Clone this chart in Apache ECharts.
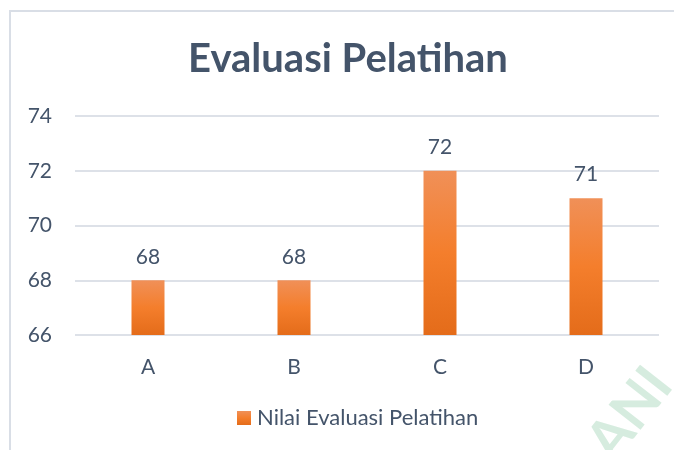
<!DOCTYPE html>
<html><head><meta charset="utf-8">
<style>html,body{margin:0;padding:0;background:#fff}#c{width:674px;height:450px}</style>
<script src="https://cdn.jsdelivr.net/npm/echarts@6/dist/echarts.min.js"></script>
</head><body><div id="c"></div>
<script>
const categories = ['A', 'B', 'C', 'D'];
const values = [68, 68, 72, 71];
const seriesName = 'Nilai Evaluasi Pelatihan';
const yMin = 66, yMax = 74, yStep = 2;

const chart = echarts.init(document.getElementById('c'), null, {renderer: 'canvas'});
const txt = '#44546A';
const font = 'Lato';
const grad = new echarts.graphic.LinearGradient(0, 0, 0, 1, [
  {offset: 0, color: '#F09058'},
  {offset: 0.5, color: '#F47E2C'},
  {offset: 1, color: '#E46C1A'}
]);
chart.setOption({
  animation: false,
  title: {
    text: 'Evaluasi Pelatihan', left: 343, top: 34, textAlign: 'center',
    textStyle: {fontFamily: font, fontWeight: 'bold', fontSize: 40, color: '#44546A'}
  },
  graphic: [
    {type: 'polyline', shape: {points: [[10, 450], [10, 11], [674, 11]]},
     style: {stroke: '#D9DEE6', lineWidth: 2, fill: null}, silent: true},
    {type: 'text', x: 630, y: 414, rotation: Math.PI * 52 / 180,
     style: {text: 'ANI', fontFamily: font, fontWeight: 'bold', fontSize: 56, fill: '#D6ECDF', textAlign: 'center', textVerticalAlign: 'middle'}, silent: true, z: -1}
  ],
  grid: {left: 75, right: 15, top: 116, bottom: 115, containLabel: false},
  legend: {
    bottom: 16, left: 232, itemWidth: 14, itemHeight: 14, icon: 'rect', itemGap: 6,
    textStyle: {fontFamily: font, fontSize: 22, color: txt, padding: [0, 0, 0, 1]}, data: [seriesName]
  },
  xAxis: {
    type: 'category', data: categories,
    axisLine: {show: false}, axisTick: {show: false},
    axisLabel: {fontFamily: font, fontSize: 21, color: txt, margin: 22}
  },
  yAxis: {
    type: 'value', min: yMin, max: yMax, interval: yStep,
    axisLine: {show: false}, axisTick: {show: false},
    axisLabel: {fontFamily: font, fontSize: 21, color: txt, margin: 23},
    splitLine: {lineStyle: {color: '#DDE1E8', width: 2}}
  },
  series: [{
    name: seriesName, type: 'bar', data: values, barWidth: 33,
    itemStyle: {color: grad},
    label: {show: true, position: 'top', distance: 13, fontFamily: font, fontSize: 21, color: txt}
  }]
});
</script></body></html>
